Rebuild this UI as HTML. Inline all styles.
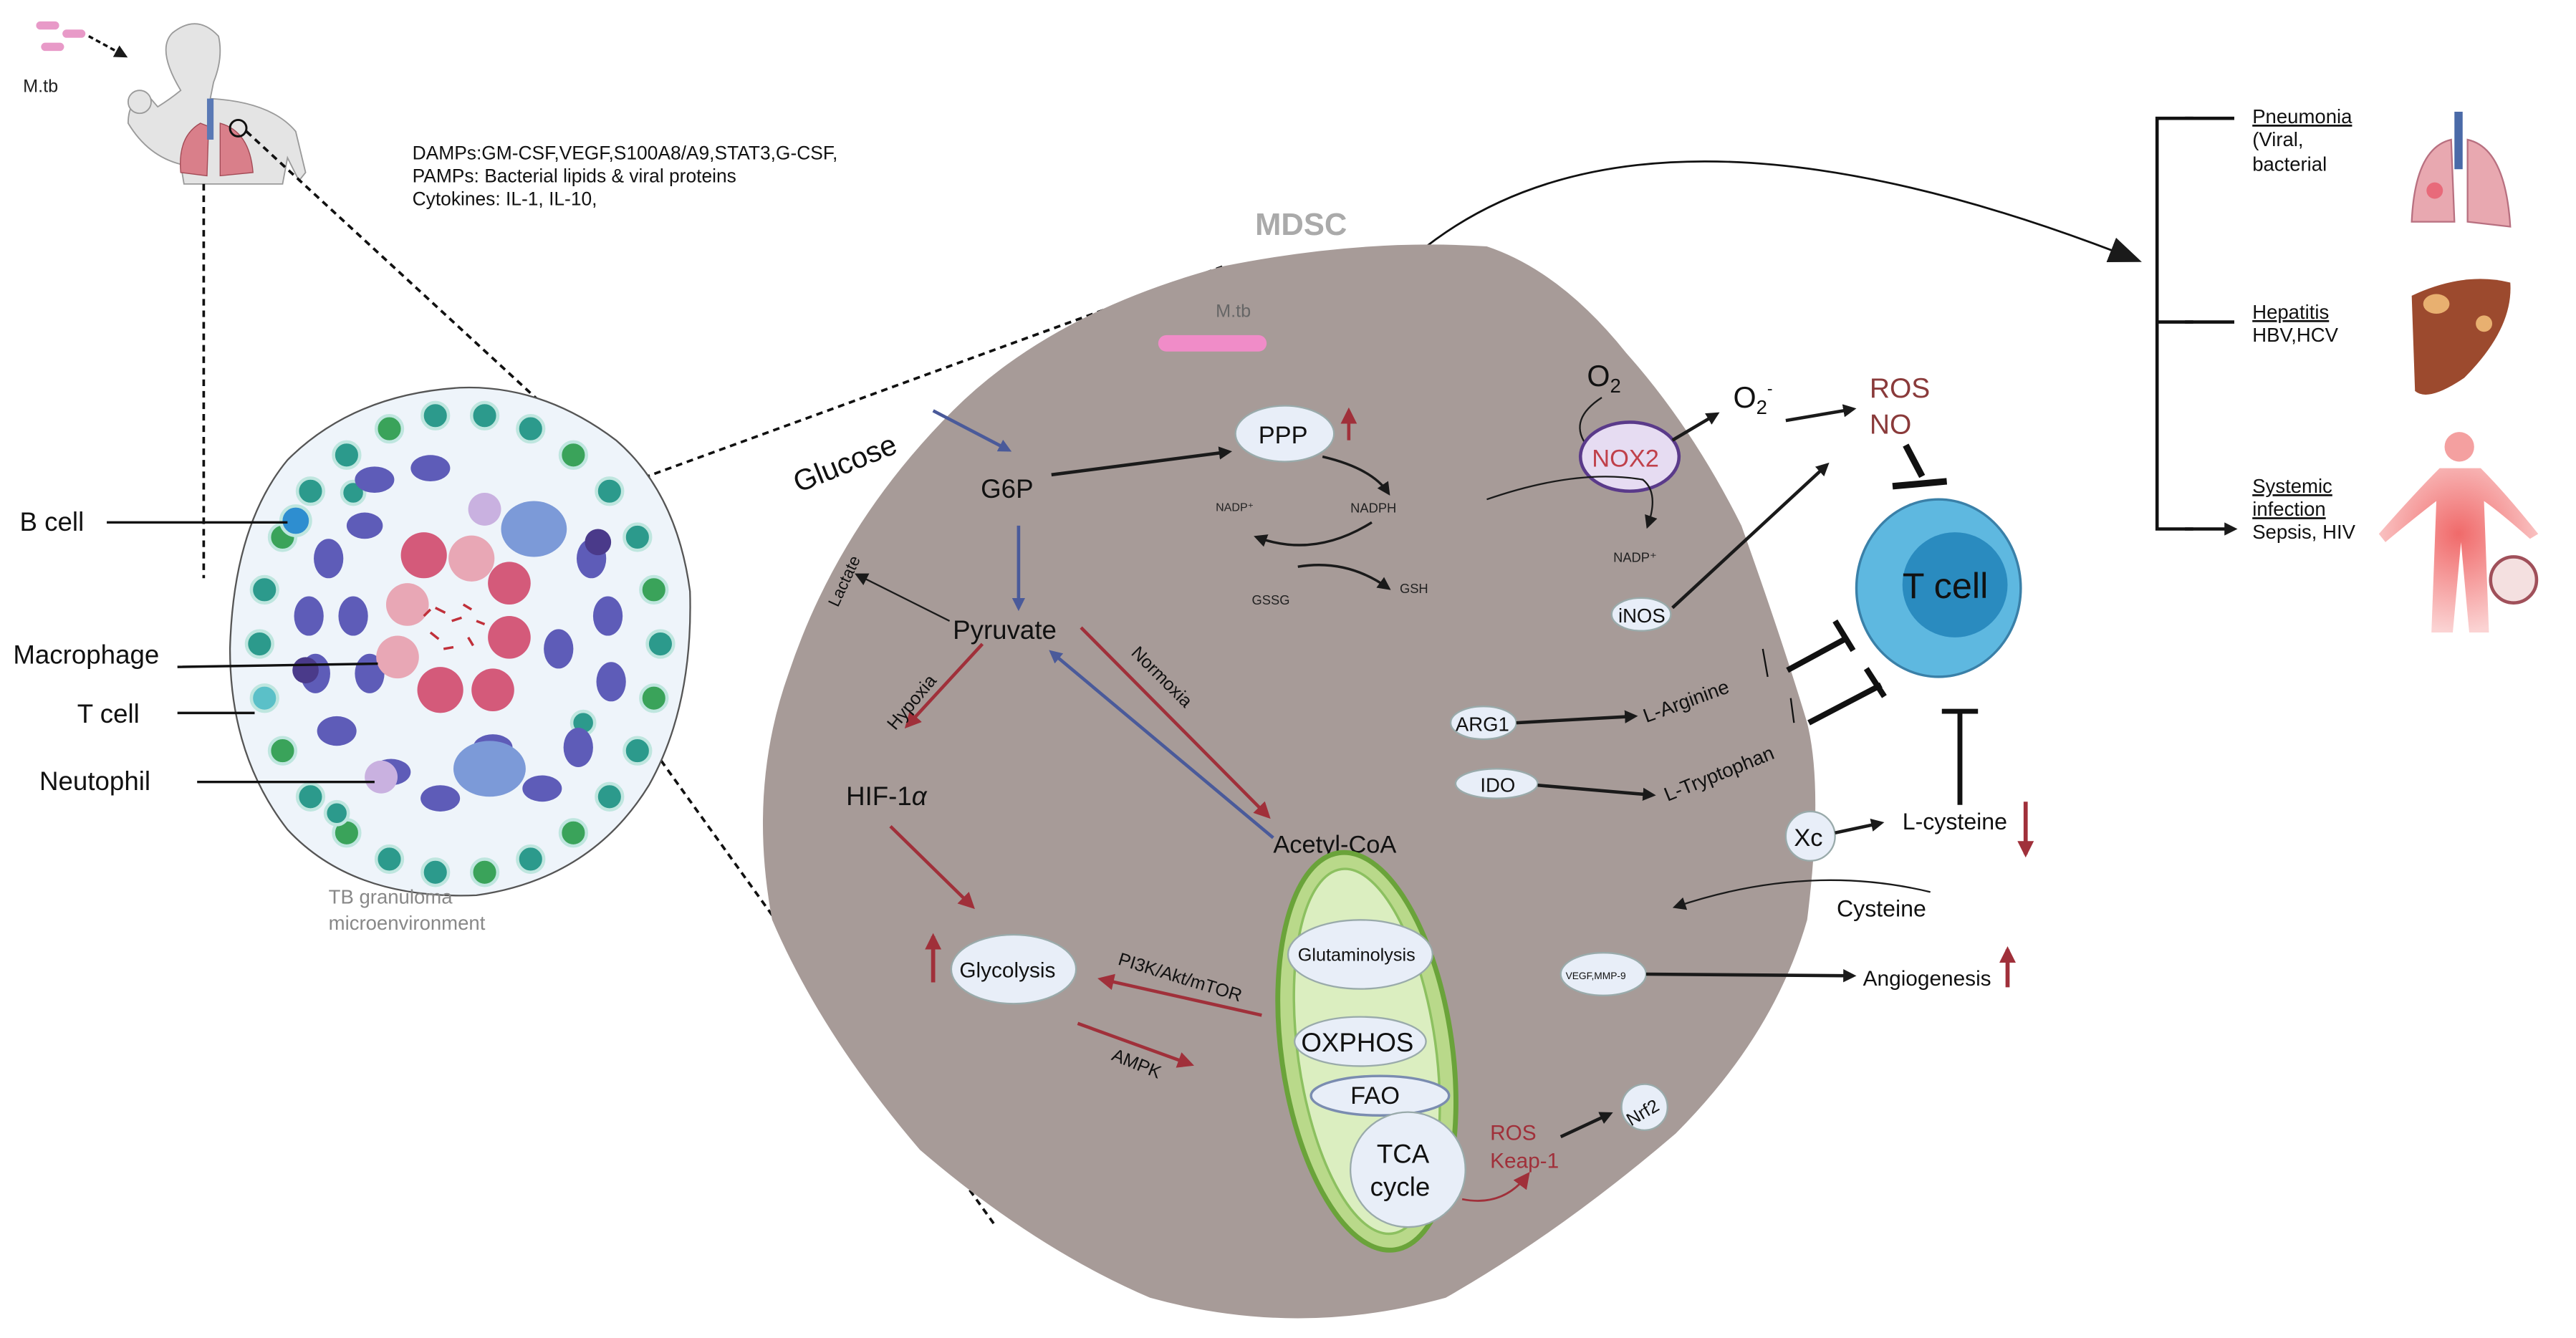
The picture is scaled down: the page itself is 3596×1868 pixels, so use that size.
<!DOCTYPE html>
<html><head><meta charset="utf-8"><style>
html,body{margin:0;padding:0;background:#fff;}
svg{display:block}
text{font-family:"Liberation Sans",sans-serif;}
</style></head><body>
<svg width="3596" height="1868" viewBox="0 0 1568 814.5" xmlns="http://www.w3.org/2000/svg">
<defs>
<marker id="ak" markerWidth="8" markerHeight="8" refX="6" refY="4" orient="auto" markerUnits="userSpaceOnUse"><path d="M0,0 L8,4 L0,8 Z" fill="#1a1a1a"/></marker>
<marker id="ab" markerWidth="8" markerHeight="8" refX="6" refY="4" orient="auto" markerUnits="userSpaceOnUse"><path d="M0,0 L8,4 L0,8 Z" fill="#4a5a9a"/></marker>
<marker id="ar" markerWidth="10" markerHeight="10" refX="8" refY="5" orient="auto" markerUnits="userSpaceOnUse"><path d="M0,0 L10,5 L0,10 Z" fill="#a0303a"/></marker>
<marker id="abig" markerWidth="20" markerHeight="16" refX="16" refY="8" orient="auto" markerUnits="userSpaceOnUse"><path d="M0,0 L20,8 L0,16 Z" fill="#1a1a1a"/></marker>
<radialGradient id="body" cx="50%" cy="40%" r="60%"><stop offset="0" stop-color="#f06a6a"/><stop offset="1" stop-color="#fbd3d3"/></radialGradient>
</defs>

<!-- person top-left -->
<rect x="22" y="13" width="14" height="5" rx="2.5" fill="#e89ac8"/>
<rect x="38" y="18" width="14" height="5" rx="2.5" fill="#e89ac8"/>
<rect x="25" y="26" width="14" height="5" rx="2.5" fill="#e89ac8"/>
<text x="14" y="56" font-size="11" fill="#222">M.tb</text>
<path d="M54,22 L76,34" stroke="#111" stroke-width="1.5" stroke-dasharray="3,2" marker-end="url(#ak)"/>
<path d="M110,55 Q95,30 105,20 Q120,8 133,22 Q136,35 130,50 L128,60 Q165,62 180,80 L186,105 L182,110 L175,96 L172,112 L112,112 L110,100 Q90,95 78,75 Q78,60 90,58 L96,65 Q104,60 110,55 Z" fill="#e4e4e4" stroke="#9a9a9a" stroke-width="0.8"/>
<circle cx="85" cy="62" r="7" fill="#e4e4e4" stroke="#9a9a9a" stroke-width="0.8"/>
<path d="M122,75 q-14,8 -12,30 l16,2 l1,-30 z M134,75 q18,5 20,30 l-20,2 z" fill="#d97f8a" stroke="#a24a55" stroke-width="0.6"/>
<rect x="126" y="60" width="4" height="25" fill="#5a79b5"/>
<circle cx="145" cy="78" r="5" fill="none" stroke="#111" stroke-width="1.3"/>

<!-- dashed lines -->
<path d="M124,112 L124,352" stroke="#111" stroke-width="1.6" stroke-dasharray="4,3"/>
<path d="M150,80 L378,290" stroke="#111" stroke-width="1.6" stroke-dasharray="4,3"/>
<path d="M372,298 L745,162" stroke="#111" stroke-width="1.6" stroke-dasharray="4,3"/>
<path d="M337,372 L605,745" stroke="#111" stroke-width="1.6" stroke-dasharray="4,3"/>

<text x="251" y="97" font-size="11.5" fill="#111">DAMPs:GM-CSF,VEGF,S100A8/A9,STAT3,G-CSF,</text>
<text x="251" y="111" font-size="11.5" fill="#111">PAMPs: Bacterial lipids  &amp; viral proteins</text>
<text x="251" y="125" font-size="11.5" fill="#111">Cytokines: IL-1, IL-10,</text>

<!-- granuloma -->
<path d="M280,236 Q330,234 375,268 Q412,300 420,360 Q422,430 395,478 Q360,535 290,545 Q215,548 175,505 Q140,460 140,395 Q142,320 175,280 Q215,240 280,236 Z" fill="#eef4fa" stroke="#555" stroke-width="1"/>
<g fill="#2c9a8c" stroke="#bfe6df" stroke-width="2">
<circle cx="402" cy="392" r="8"/><circle cx="398" cy="425" r="8" fill="#3aa35a"/><circle cx="388" cy="457" r="8"/><circle cx="371" cy="485" r="8"/><circle cx="349" cy="507" r="8" fill="#3aa35a"/><circle cx="323" cy="523" r="8"/><circle cx="295" cy="531" r="8" fill="#3aa35a"/><circle cx="265" cy="531" r="8"/><circle cx="237" cy="523" r="8"/><circle cx="211" cy="507" r="8" fill="#3aa35a"/><circle cx="189" cy="485" r="8"/><circle cx="172" cy="457" r="8" fill="#3aa35a"/><circle cx="161" cy="425" r="8" fill="#5bc0c8"/><circle cx="158" cy="392" r="8"/><circle cx="161" cy="359" r="8"/><circle cx="172" cy="327" r="8" fill="#3aa35a"/><circle cx="189" cy="299" r="8"/><circle cx="211" cy="277" r="8"/><circle cx="237" cy="261" r="8" fill="#3aa35a"/><circle cx="265" cy="253" r="8"/><circle cx="295" cy="253" r="8"/><circle cx="323" cy="261" r="8"/><circle cx="349" cy="277" r="8" fill="#3aa35a"/><circle cx="371" cy="299" r="8"/><circle cx="388" cy="327" r="8"/><circle cx="398" cy="359" r="8" fill="#3aa35a"/>
<circle cx="180" cy="317" r="9" fill="#2e8ed0"/><circle cx="215" cy="300" r="7"/><circle cx="355" cy="440" r="7"/><circle cx="205" cy="495" r="7"/>
</g>
<g fill="#5e5cb8">
<ellipse cx="228" cy="292" rx="12" ry="8"/><ellipse cx="262" cy="285" rx="12" ry="8"/><ellipse cx="200" cy="340" rx="9" ry="12"/><ellipse cx="188" cy="375" rx="9" ry="12"/><ellipse cx="192" cy="410" rx="9" ry="12"/><ellipse cx="205" cy="445" rx="12" ry="9"/><ellipse cx="238" cy="470" rx="12" ry="8"/><ellipse cx="268" cy="486" rx="12" ry="8"/><ellipse cx="330" cy="480" rx="12" ry="8"/><ellipse cx="352" cy="455" rx="9" ry="12"/><ellipse cx="372" cy="415" rx="9" ry="12"/><ellipse cx="370" cy="375" rx="9" ry="12"/><ellipse cx="360" cy="340" rx="9" ry="12"/><ellipse cx="222" cy="320" rx="11" ry="8"/><ellipse cx="215" cy="375" rx="9" ry="12"/><ellipse cx="225" cy="410" rx="9" ry="12"/><ellipse cx="300" cy="455" rx="12" ry="8"/><ellipse cx="340" cy="395" rx="9" ry="12"/>
</g>
<g fill="#d45a7a">
<circle cx="258" cy="338" r="14"/><circle cx="287" cy="340" r="14" fill="#e8a7b5"/><circle cx="248" cy="368" r="13" fill="#e8a7b5"/><circle cx="310" cy="355" r="13"/><circle cx="310" cy="388" r="13"/><circle cx="268" cy="420" r="14"/><circle cx="300" cy="420" r="13"/><circle cx="242" cy="400" r="13" fill="#e8a7b5"/>
</g>
<ellipse cx="325" cy="322" rx="20" ry="17" fill="#7c9ad8"/><ellipse cx="298" cy="468" rx="22" ry="17" fill="#7c9ad8"/>
<circle cx="295" cy="310" r="10" fill="#c9b1e0"/><circle cx="232" cy="473" r="10" fill="#c9b1e0"/>
<circle cx="364" cy="330" r="8" fill="#4a3a8a"/><circle cx="186" cy="408" r="8" fill="#4a3a8a"/>
<g stroke="#c0303a" stroke-width="1.5"><path d="M265,370 l6,3 M275,378 l6,-2 M262,385 l5,4 M282,368 l5,3 M270,395 l6,-1 M285,388 l3,5 M258,375 l4,-4 M290,378 l5,2"/></g>
<text x="200" y="550" font-size="12" fill="#888">TB granuloma</text>
<text x="200" y="566" font-size="12" fill="#888">microenvironment</text>

<g font-size="16" fill="#111"><text x="12" y="323">B cell</text><text x="8" y="404">Macrophage</text><text x="47" y="440">T cell</text><text x="24" y="481">Neutophil</text></g>
<g stroke="#111" stroke-width="1.5"><path d="M65,318 L175,318 M108,406 L230,404 M108,434 L155,434 M120,476 L228,476"/></g>

<!-- MDSC curve -->
<text x="764" y="143" font-size="19" font-weight="bold" fill="#aaa">MDSC</text>
<path d="M862,155 Q1000,40 1300,158" fill="none" stroke="#111" stroke-width="1.2" marker-end="url(#abig)"/>

<!-- cell body -->
<path d="M745,162 Q830,145 905,150 Q950,165 990,215 Q1030,260 1060,320 Q1085,390 1100,440 Q1110,480 1100,560 Q1080,630 1020,690 Q950,750 880,790 Q790,815 700,790 Q630,760 560,700 Q500,630 470,560 Q455,480 480,410 Q510,320 580,250 Q640,190 745,162 Z" fill="#a79b98"/>

<text x="740" y="193" font-size="11" fill="#666">M.tb</text>
<rect x="705" y="204" width="66" height="10" rx="5" fill="#f08cc8"/>

<text x="486" y="300" font-size="18" fill="#111" transform="rotate(-22 486 300)">Glucose</text>
<path d="M568,250 L614,274" stroke="#4a5a9a" stroke-width="2" marker-end="url(#ab)"/>
<text x="597" y="303" font-size="16" fill="#111">G6P</text>
<path d="M640,289 L748,275" stroke="#1a1a1a" stroke-width="2" marker-end="url(#ak)"/>
<ellipse cx="782" cy="264" rx="30" ry="17" fill="#e8eef8" stroke="#9aa" stroke-width="1"/>
<text x="766" y="270" font-size="15" fill="#111">PPP</text>
<path d="M821,268 L821,250" stroke="#a0303a" stroke-width="2" marker-end="url(#ar)"/>
<path d="M805,278 Q835,285 845,300" fill="none" stroke="#1a1a1a" stroke-width="1.5" marker-end="url(#ak)"/>
<text x="740" y="311" font-size="7" fill="#222">NADP⁺</text><text x="822" y="312" font-size="8" fill="#222">NADPH</text>
<path d="M835,318 Q800,340 765,327" fill="none" stroke="#1a1a1a" stroke-width="1.5" marker-end="url(#ak)"/>
<path d="M790,345 Q820,340 845,358" fill="none" stroke="#1a1a1a" stroke-width="1.5" marker-end="url(#ak)"/>
<text x="762" y="368" font-size="8" fill="#222">GSSG</text><text x="852" y="361" font-size="8" fill="#222">GSH</text>
<path d="M620,320 L620,370" stroke="#4a5a9a" stroke-width="2" marker-end="url(#ab)"/>
<text x="580" y="389" font-size="16" fill="#111">Pyruvate</text>
<path d="M578,378 L522,350" stroke="#1a1a1a" stroke-width="1" marker-end="url(#ak)"/>
<text x="510" y="370" font-size="10" fill="#111" transform="rotate(-65 510 370)">Lactate</text>
<path d="M598,392 L552,442" stroke="#a0303a" stroke-width="2" marker-end="url(#ar)"/>
<text x="545" y="445" font-size="11" fill="#111" transform="rotate(-50 545 445)">Hypoxia</text>
<text x="515" y="490" font-size="16" fill="#111">HIF-1<tspan font-style="italic">α</tspan></text>
<path d="M542,503 L592,552" stroke="#a0303a" stroke-width="2" marker-end="url(#ar)"/>
<path d="M658,382 L772,497" stroke="#a0303a" stroke-width="2" marker-end="url(#ar)"/>
<text x="688" y="398" font-size="11" fill="#111" transform="rotate(45 688 398)">Normoxia</text>
<path d="M775,510 L640,397" stroke="#4a5a9a" stroke-width="2" marker-end="url(#ab)"/>
<text x="775" y="519" font-size="15" fill="#111">Acetyl-CoA</text>
<ellipse cx="617" cy="590" rx="38" ry="21" fill="#e8eef8" stroke="#9aa"/>
<text x="584" y="595" font-size="13" fill="#111">Glycolysis</text>
<path d="M568,598 L568,570" stroke="#a0303a" stroke-width="2.5" marker-end="url(#ar)"/>
<path d="M768,618 L670,596" stroke="#a0303a" stroke-width="2" marker-end="url(#ar)"/>
<text x="680" y="587" font-size="11" fill="#111" transform="rotate(17 680 587)">PI3K/Akt/mTOR</text>
<path d="M656,623 L725,648" stroke="#a0303a" stroke-width="2" marker-end="url(#ar)"/>
<text x="676" y="645" font-size="11" fill="#111" transform="rotate(22 676 645)">AMPK</text>

<!-- mitochondrion -->
<ellipse cx="832" cy="640" rx="52" ry="122" fill="#b9d98a" stroke="#6aa33a" stroke-width="3" transform="rotate(-8 832 640)"/>
<ellipse cx="832" cy="640" rx="42" ry="112" fill="#dbeec0" stroke="#8cc060" stroke-width="1.5" transform="rotate(-8 832 640)"/>
<ellipse cx="828" cy="581" rx="44" ry="21" fill="#e8eef8" stroke="#9aa"/><text x="790" y="585" font-size="11" fill="#111">Glutaminolysis</text>
<ellipse cx="828" cy="634" rx="40" ry="15" fill="#e8eef8" stroke="#9aa"/><text x="792" y="640" font-size="16" fill="#111">OXPHOS</text>
<ellipse cx="840" cy="667" rx="42" ry="12" fill="#e8eef8" stroke="#7a8cb0" stroke-width="1.5"/><text x="822" y="672" font-size="15" fill="#111">FAO</text>
<circle cx="857" cy="712" r="35" fill="#e8eef8" stroke="#9aa"/><text x="838" y="708" font-size="16" fill="#111">TCA</text><text x="834" y="728" font-size="16" fill="#111">cycle</text>
<path d="M890,730 Q915,735 930,715" fill="none" stroke="#a0303a" stroke-width="1.2" marker-end="url(#ar)"/>
<text x="907" y="694" font-size="13" fill="#a0303a">ROS</text><text x="907" y="711" font-size="13" fill="#a0303a">Keap-1</text>
<path d="M950,692 L980,678" stroke="#1a1a1a" stroke-width="2" marker-end="url(#ak)"/>
<circle cx="1001" cy="674" r="14" fill="#e8eef8" stroke="#9aa"/><text x="988" y="680" font-size="11" fill="#111" transform="rotate(-30 1001 674)">Nrf2</text>

<!-- NOX2 region -->
<text x="966" y="235" font-size="18" fill="#111">O<tspan font-size="12" dy="4">2</tspan></text>
<path d="M975,242 Q955,255 965,270" fill="none" stroke="#1a1a1a" stroke-width="1"/>
<ellipse cx="992" cy="278" rx="30" ry="21" fill="#e6dcf2" stroke="#5a3a8a" stroke-width="2"/>
<text x="969" y="284" font-size="15" fill="#c0404a">NOX2</text>
<path d="M1018,268 L1045,252" stroke="#1a1a1a" stroke-width="2" marker-end="url(#ak)"/>
<text x="1055" y="248" font-size="18" fill="#111">O<tspan font-size="12" dy="4">2</tspan><tspan font-size="10" dy="-12">-</tspan></text>
<path d="M1087,256 L1128,249" stroke="#1a1a1a" stroke-width="2" marker-end="url(#ak)"/>
<text x="1138" y="242" font-size="17" fill="#8a3a3a">ROS</text><text x="1138" y="264" font-size="17" fill="#8a3a3a">NO</text>
<path d="M905,304 Q960,285 1000,292 Q1010,300 1003,320" fill="none" stroke="#1a1a1a" stroke-width="1" marker-end="url(#ak)"/>
<text x="982" y="342" font-size="8" fill="#222">NADP⁺</text>
<ellipse cx="999" cy="374" rx="18" ry="10" fill="#e8eef8" stroke="#9aa"/><text x="985" y="379" font-size="12" fill="#111">iNOS</text>
<path d="M1018,370 L1112,283" stroke="#1a1a1a" stroke-width="2" marker-end="url(#ak)"/>
<path d="M1160,271 L1170,290 M1152,296 L1185,293" stroke="#111" stroke-width="4"/>

<!-- T cell -->
<ellipse cx="1180" cy="358" rx="50" ry="54" fill="#5eb8e0" stroke="#3a80a8" stroke-width="1.5"/>
<circle cx="1190" cy="356" r="32" fill="#2a8bbf"/>
<text x="1158" y="364" font-size="22" fill="#111">T cell</text>

<ellipse cx="903" cy="440" rx="20" ry="10" fill="#e8eef8" stroke="#9aa"/><text x="886" y="445" font-size="12" fill="#111">ARG1</text>
<path d="M923,440 L995,436" stroke="#1a1a1a" stroke-width="2" marker-end="url(#ak)"/>
<text x="1002" y="440" font-size="12" fill="#111" transform="rotate(-20 1002 440)">L-Arginine</text>
<ellipse cx="911" cy="477" rx="25" ry="9" fill="#e8eef8" stroke="#9aa"/><text x="901" y="482" font-size="12" fill="#111">IDO</text>
<path d="M936,478 L1006,484" stroke="#1a1a1a" stroke-width="2" marker-end="url(#ak)"/>
<text x="1015" y="488" font-size="12" fill="#111" transform="rotate(-22 1015 488)">L-Tryptophan</text>
<path d="M1073,395 L1076,412 M1090,425 L1092,440" stroke="#111" stroke-width="1" />
<path d="M1088,408 L1125,388 M1117,378 L1128,396 M1101,440 L1145,417 M1136,407 L1147,424" stroke="#111" stroke-width="3.5"/>
<circle cx="1102" cy="509" r="15" fill="#e8eef8" stroke="#9aa"/><text x="1092" y="515" font-size="15" fill="#111">Xc</text>
<path d="M1117,507 L1145,501" stroke="#1a1a1a" stroke-width="2" marker-end="url(#ak)"/>
<text x="1158" y="505" font-size="14" fill="#111">L-cysteine</text>
<path d="M1233,488 L1233,520" stroke="#a0303a" stroke-width="2.5" marker-end="url(#ar)"/>
<path d="M1193,490 L1193,433 M1182,433 L1204,433" stroke="#111" stroke-width="3"/>
<path d="M1175,543 Q1100,525 1020,552" fill="none" stroke="#1a1a1a" stroke-width="1" marker-end="url(#ak)"/>
<text x="1118" y="558" font-size="14" fill="#111">Cysteine</text>
<ellipse cx="976" cy="593" rx="26" ry="13" fill="#e8eef8" stroke="#9aa"/><text x="953" y="596" font-size="6" fill="#111">VEGF,MMP-9</text>
<path d="M1002,593 L1128,594" stroke="#1a1a1a" stroke-width="2" marker-end="url(#ak)"/>
<text x="1134" y="600" font-size="13" fill="#111">Angiogenesis</text>
<path d="M1222,601 L1222,578" stroke="#a0303a" stroke-width="2.5" marker-end="url(#ar)"/>

<!-- right branch -->
<path d="M1335,72 L1313,72 L1313,322 L1335,322 M1313,196 L1335,196" fill="none" stroke="#111" stroke-width="2"/>
<path d="M1330,72 L1360,72 M1330,196 L1360,196 M1330,322 L1360,322" stroke="#111" stroke-width="2" marker-end="url(#ak)"/>
<g font-size="12" fill="#111">
<text x="1371" y="75" text-decoration="underline">Pneumonia</text><text x="1371" y="89">(Viral,</text><text x="1371" y="104">bacterial</text>
<text x="1371" y="194" text-decoration="underline">Hepatitis</text><text x="1371" y="208">HBV,HCV</text>
<text x="1371" y="300" text-decoration="underline">Systemic</text><text x="1371" y="314" text-decoration="underline">infection</text><text x="1371" y="328">Sepsis, HIV</text>
</g>
<!-- lungs -->
<rect x="1494" y="68" width="5" height="35" fill="#4a6aa8"/>
<path d="M1492,85 Q1470,90 1468,135 L1494,135 Z M1502,85 Q1525,90 1528,138 L1502,135 Z" fill="#e8a8b0" stroke="#b87080"/>
<circle cx="1482" cy="116" r="5" fill="#e86a7a"/>
<!-- liver -->
<path d="M1468,180 Q1500,165 1528,172 Q1530,200 1500,230 Q1478,245 1470,238 Z" fill="#9c4a2e"/>
<ellipse cx="1483" cy="185" rx="8" ry="6" fill="#e8b070"/><ellipse cx="1512" cy="197" rx="5" ry="5" fill="#e8b070"/>
<!-- body -->
<circle cx="1497" cy="272" r="9" fill="#f4a0a0"/>
<path d="M1485,285 L1510,285 Q1525,300 1545,325 L1540,328 Q1522,312 1512,305 L1515,385 L1503,385 L1498,330 L1493,385 L1480,385 L1483,305 Q1470,315 1452,330 L1448,325 Q1470,300 1485,285 Z" fill="url(#body)"/>
<circle cx="1530" cy="353" r="14" fill="#f4e0e0" stroke="#a0505a" stroke-width="2"/>
</svg>
</body></html>
